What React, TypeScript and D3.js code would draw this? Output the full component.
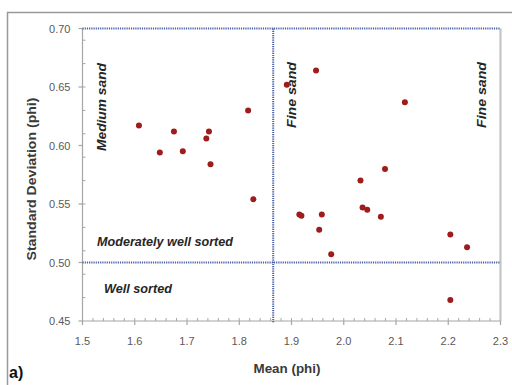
import React from "react";
import * as d3 from "d3";

// Grain-size statistics: mean (phi) vs. standard deviation (phi)
const meanPhi = [
  1.608, 1.648, 1.675, 1.692, 1.737, 1.742, 1.745, 1.817, 1.827,
  1.891, 1.947, 2.117, 2.079, 2.032,
  1.915, 1.919, 1.958, 1.953, 1.976, 2.036, 2.045, 2.071, 2.204, 2.236, 2.204,
];
const sdPhi = [
  0.617, 0.594, 0.612, 0.595, 0.606, 0.612, 0.584, 0.630, 0.554,
  0.652, 0.664, 0.637, 0.580, 0.570,
  0.541, 0.540, 0.541, 0.528, 0.507, 0.547, 0.545, 0.539, 0.524, 0.513, 0.468,
];

const xTicks = [1.5, 1.6, 1.7, 1.8, 1.9, 2.0, 2.1, 2.2, 2.3];
const yTicks = [0.45, 0.5, 0.55, 0.6, 0.65, 0.7];
const xMinor = d3.range(1.52, 2.3, 0.02);
const yMinor = d3.range(0.47, 0.7, 0.02);

// Class boundaries
const sortingBounds = [0.5, 0.7];
const sandBound = 1.865;

const W = 512;
const H = 385;
const left = 82.5;
const right = 500.5;
const top = 28.5;
const bottom = 321;

export default function App() {
  const x = d3.scaleLinear().domain([1.5, 2.3]).range([left, right]);
  const y = d3.scaleLinear().domain([0.45, 0.7]).range([bottom, top]);
  const axisColor = "#a6a6a6";
  const tickText = "#595959";
  const dotColor = "#4a5fa6";
  const labelFont = "'Liberation Sans', Arial, sans-serif";

  return (
    <svg width={W} height={H} style={{ position: "absolute", left: 0, top: 0 }}>
      <rect x={0} y={0} width={W} height={H} fill="#fff" />
      <rect x={7.5} y={12.5} width={W + 20} height={H + 20} fill="none" stroke="#999" strokeWidth={1.5} />

      {/* right frame of plot area */}
      <line x1={right} x2={right} y1={top} y2={bottom} stroke="#c4c4c4" strokeWidth={2.2} />

      {/* axes */}
      <line x1={left} x2={left} y1={top} y2={bottom} stroke={axisColor} strokeWidth={1.2} />
      <line x1={left} x2={right} y1={bottom} y2={bottom} stroke={axisColor} strokeWidth={1.2} />
      {yTicks.map((t) => (
        <g key={"y" + t}>
          <line x1={left - 4} x2={left} y1={y(t)} y2={y(t)} stroke={axisColor} strokeWidth={1.2} />
          <text x={left - 12} y={y(t) + 4} textAnchor="end" fontSize={11} fill={tickText} fontFamily={labelFont}>
            {d3.format(".2f")(t)}
          </text>
        </g>
      ))}
      {yMinor.map((t) => (
        <line key={"ym" + t} x1={left} x2={left + 3} y1={y(t)} y2={y(t)} stroke={axisColor} strokeWidth={1} />
      ))}
      {xTicks.map((t) => (
        <g key={"x" + t}>
          <line x1={x(t)} x2={x(t)} y1={bottom} y2={bottom + 4} stroke={axisColor} strokeWidth={1.2} />
          <text x={x(t)} y={bottom + 24} textAnchor="middle" fontSize={11} fill={tickText} fontFamily={labelFont}>
            {d3.format(".1f")(t)}
          </text>
        </g>
      ))}
      {xMinor.map((t) => (
        <line key={"xm" + t} x1={x(t)} x2={x(t)} y1={bottom - 3} y2={bottom} stroke={axisColor} strokeWidth={1} />
      ))}

      {/* class boundaries */}
      {sortingBounds.map((b) => (
        <line key={"b" + b} x1={left} x2={right} y1={y(b)} y2={y(b)} stroke={dotColor} strokeWidth={2} strokeDasharray="1.2 1" />
      ))}
      <line x1={x(sandBound)} x2={x(sandBound)} y1={top} y2={bottom + 2} stroke={dotColor} strokeWidth={2} strokeDasharray="1.2 1" />

      {/* region labels */}
      <g fontFamily={labelFont} fontWeight="bold" fontStyle="italic" fontSize={12} fill="#262626">
        <text transform={`translate(${106},${107}) rotate(-90)`} textAnchor="middle" textLength={88} lengthAdjust="spacingAndGlyphs">Medium sand</text>
        <text transform={`translate(${296},${95}) rotate(-90)`} textAnchor="middle" textLength={66} lengthAdjust="spacingAndGlyphs">Fine sand</text>
        <text transform={`translate(${486},${95}) rotate(-90)`} textAnchor="middle" textLength={66} lengthAdjust="spacingAndGlyphs">Fine sand</text>
        <text x={97} y={246} textLength={136} lengthAdjust="spacingAndGlyphs">Moderately well sorted</text>
        <text x={104} y={293} textLength={68} lengthAdjust="spacingAndGlyphs">Well sorted</text>
      </g>

      {/* points */}
      {meanPhi.map((m, i) => (
        <circle key={i} cx={x(m)} cy={y(sdPhi[i])} r={3} fill="#9e1c1c" />
      ))}

      {/* axis titles */}
      <text transform={`translate(${36},${179}) rotate(-90)`} textAnchor="middle" fontSize={12} fontWeight="bold" fill="#3a3a3a" fontFamily={labelFont} textLength={163} lengthAdjust="spacingAndGlyphs">
        Standard Deviation (phi)
      </text>
      <text x={287} y={373} textAnchor="middle" fontSize={12} fontWeight="bold" fill="#3a3a3a" fontFamily={labelFont} textLength={67} lengthAdjust="spacingAndGlyphs">
        Mean (phi)
      </text>
      <text x={9} y={378} fontSize={16} fontWeight="bold" fill="#111" fontFamily={labelFont}>
        a)
      </text>
    </svg>
  );
}
